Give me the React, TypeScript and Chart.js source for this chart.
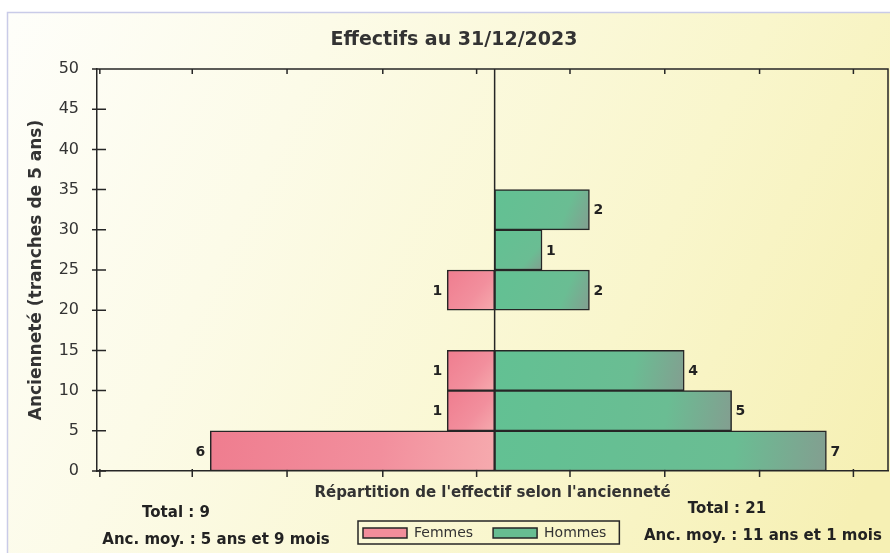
import { useEffect, useRef } from 'react';
import { Chart, registerables } from 'chart.js';

Chart.register(...registerables);

const TITLE = 'Effectifs au 31/12/2023';
const Y_TITLE = 'Ancienneté (tranches de 5 ans)';
const X_TITLE = "Répartition de l'effectif selon l'ancienneté";
const TRANCHES = ['0-5', '5-10', '10-15', '15-20', '20-25', '25-30', '30-35', '35-40', '40-45', '45-50'];
const FEMMES = [6, 1, 1, 0, 1, 0, 0, 0, 0, 0];
const HOMMES = [7, 5, 4, 0, 2, 1, 2, 0, 0, 0];
const SERIES = ['Femmes', 'Hommes'];
const Y_MIN = 0;
const Y_MAX = 50;
const Y_STEP = 5;
const X_MIN = -8.39;
const X_MAX = 8.3;
const X_TICK_MARKS = [-8.33, -6.38, -4.38, -2.36, -0.38, 1.59, 3.59, 5.59, 7.57];
const ANC_FEMMES = 'Anc. moy. : 5 ans et 9 mois';
const ANC_HOMMES = 'Anc. moy. : 11 ans et 1 mois';

const FONT = 'DejaVu Sans';
const INK = '#333333';
const EDGE = '#262626';
const PINK = '#f28d9b';
const GREEN = '#67bd91';

const total = (arr: number[]) => arr.reduce((s, v) => s + v, 0);

function barFill(kind: 'f' | 'h') {
  return (c: any) => {
    const solid = kind === 'f' ? PINK : GREEN;
    if (c.type !== 'data') return solid;
    const chart = c.chart;
    const xs = chart.scales?.x;
    const ys = chart.scales?.y;
    if (!xs || !ys || !chart.chartArea) return solid;
    const v = c.raw;
    if (v == null) return solid;
    const xb = xs.getPixelForValue(0);
    const xe = xs.getPixelForValue(v);
    const yc = ys.getPixelForValue(c.dataIndex);
    const half = (ys.height / TRANCHES.length) / 2;
    const g = chart.ctx.createLinearGradient(Math.min(xb, xe), yc - half, Math.max(xb, xe), yc + half);
    if (kind === 'f') {
      g.addColorStop(0, '#ef7d8f');
      g.addColorStop(0.6, '#f28f9d');
      g.addColorStop(1, '#f6aaae');
    } else {
      g.addColorStop(0, '#62c193');
      g.addColorStop(0.72, '#6abd93');
      g.addColorStop(1, '#839e90');
    }
    return g;
  };
}

const background = {
  id: 'background',
  beforeDraw(chart: any) {
    const { ctx, width, height } = chart;
    ctx.save();
    ctx.fillStyle = '#ffffff';
    ctx.fillRect(0, 0, width, height);
    const g = ctx.createLinearGradient(7, 12, width, height * 0.8);
    g.addColorStop(0, '#fefefa');
    g.addColorStop(0.3, '#fcfbe8');
    g.addColorStop(0.7, '#f9f6cc');
    g.addColorStop(1, '#f6f0b4');
    ctx.fillStyle = g;
    ctx.fillRect(7, 12, width - 7, height - 12);
    ctx.strokeStyle = '#c9cbe8';
    ctx.lineWidth = 1.5;
    ctx.beginPath();
    ctx.moveTo(7.5, height);
    ctx.lineTo(7.5, 12.5);
    ctx.lineTo(width, 12.5);
    ctx.stroke();
    ctx.restore();
  },
};

const frame = {
  id: 'frame',
  beforeDatasetsDraw(chart: any) {
    const { ctx, chartArea: a, scales } = chart;
    const xs = scales.x;
    const yv = scales.yv;
    ctx.save();
    ctx.strokeStyle = EDGE;
    ctx.lineWidth = 1.5;
    ctx.beginPath();
    ctx.moveTo(a.left, a.top);
    ctx.lineTo(a.right, a.top);
    ctx.lineTo(a.right, a.bottom);
    const x0 = xs.getPixelForValue(0);
    ctx.moveTo(x0, a.top);
    ctx.lineTo(x0, a.bottom);
    for (const v of X_TICK_MARKS) {
      const px = xs.getPixelForValue(v);
      ctx.moveTo(px, a.top);
      ctx.lineTo(px, a.top + 5);
      ctx.moveTo(px, a.bottom - 2);
      ctx.lineTo(px, a.bottom + 6);
    }
    for (const t of yv.ticks) {
      const py = yv.getPixelForValue(t.value);
      ctx.moveTo(a.left - 5, py);
      ctx.lineTo(a.left + 9, py);
    }
    ctx.stroke();
    ctx.restore();
  },
};

const valueLabels = {
  id: 'valueLabels',
  afterDatasetsDraw(chart: any) {
    const { ctx } = chart;
    ctx.save();
    ctx.font = `bold 14px "${FONT}"`;
    ctx.fillStyle = '#222222';
    ctx.textBaseline = 'middle';
    chart.data.datasets.forEach((ds: any, di: number) => {
      const meta = chart.getDatasetMeta(di);
      meta.data.forEach((el: any, i: number) => {
        const v = ds.data[i];
        if (v == null) return;
        const neg = v < 0;
        ctx.textAlign = neg ? 'right' : 'left';
        ctx.fillText(String(Math.abs(v)), neg ? el.x - 5 : el.x + 4, el.y + 1);
      });
    });
    ctx.restore();
  },
};

const placement = {
  id: 'placement',
  afterLayout(chart: any) {
    const tb = chart.titleBlock;
    if (tb) {
      const d = 454 - (tb.left + tb.right) / 2;
      tb.left += d;
      tb.right += d;
    }
    const lg = chart.legend;
    if (lg && lg.lineWidths) {
      const pad = lg.options.labels.padding;
      const x0 = (lg.left + pad + lg.right - lg.lineWidths[0]) / 2;
      const d = 363 - x0;
      lg.left += d;
      lg.right += d;
    }
  },
};

const footer = {
  id: 'footer',
  afterDraw(chart: any) {
    const { ctx } = chart;
    ctx.save();
    ctx.fillStyle = '#222222';
    ctx.textBaseline = 'middle';
    ctx.font = `bold 15px "${FONT}"`;
    ctx.textAlign = 'center';
    ctx.fillText(`Total : ${total(FEMMES)}`, 176, 513);
    ctx.fillText(ANC_FEMMES, 216, 540);
    ctx.fillText(`Total : ${total(HOMMES)}`, 727, 509);
    ctx.textAlign = 'left';
    ctx.fillText(ANC_HOMMES, 644, 536.5);
    const lg = chart.legend;
    if (lg && lg.lineWidths) {
      const pad = lg.options.labels.padding;
      const x0 = (lg.left + pad + lg.right - lg.lineWidths[0]) / 2;
      const x1 = x0 + lg.lineWidths[0] - pad;
      ctx.strokeStyle = EDGE;
      ctx.lineWidth = 1.5;
      ctx.strokeRect(x0 - 5, lg.top + 15, x1 - x0 + 18, 23);
    }
    ctx.restore();
  },
};

export default function App() {
  const ref = useRef<HTMLCanvasElement | null>(null);

  useEffect(() => {
    if (!ref.current) return;
    const chart = new Chart(ref.current, {
      type: 'bar',
      data: {
        labels: TRANCHES,
        datasets: [
          {
            label: SERIES[0],
            data: FEMMES.map((v) => (v ? -v : null)),
            backgroundColor: barFill('f'),
            borderColor: EDGE,
            borderWidth: 1.5,
            borderSkipped: false,
            grouped: false,
            barPercentage: 1,
            categoryPercentage: 1,
          },
          {
            label: SERIES[1],
            data: HOMMES.map((v) => (v ? v : null)),
            backgroundColor: barFill('h'),
            borderColor: EDGE,
            borderWidth: 1.5,
            borderSkipped: false,
            grouped: false,
            barPercentage: 1,
            categoryPercentage: 1,
          },
        ],
      },
      options: {
        indexAxis: 'y',
        responsive: false,
        animation: false,
        layout: { padding: { top: 0, left: 0, right: 2, bottom: 3 } },
        scales: {
          y: {
            type: 'category',
            reverse: true,
            offset: true,
            display: false,
          },
          yv: {
            type: 'linear',
            position: 'left',
            offset: false,
            min: Y_MIN,
            max: Y_MAX,
            ticks: {
              stepSize: Y_STEP,
              padding: 18,
              color: INK,
              font: { family: FONT, size: 16 },
            },
            grid: { display: false, drawTicks: false, offset: false },
            border: { display: true, color: EDGE, width: 1.5 },
            title: {
              display: true,
              text: Y_TITLE,
              color: INK,
              font: { family: FONT, size: 17, weight: 'bold' },
              padding: { top: 26.8, bottom: 0 },
            },
            afterFit: (s: any) => {
              s.width = 97;
            },
          },
          x: {
            type: 'linear',
            offset: false,
            min: X_MIN,
            max: X_MAX,
            ticks: { display: false },
            grid: { display: false, drawTicks: false },
            border: { display: true, color: EDGE, width: 1.5 },
            title: {
              display: true,
              text: X_TITLE,
              color: INK,
              font: { family: FONT, size: 15, weight: 'bold' },
              padding: { top: 0, bottom: 4 },
            },
            afterFit: (s: any) => {
              s.height = 35;
            },
          },
        },
        plugins: {
          title: {
            display: true,
            text: TITLE,
            color: INK,
            font: { family: FONT, size: 19, weight: 'bold' },
            padding: { top: 28.6, bottom: 17.6 },
          },
          legend: {
            display: true,
            position: 'bottom',
            fullSize: false,
            labels: {
              boxWidth: 44,
              boxHeight: 10,
              padding: 20,
              color: INK,
              font: { family: FONT, size: 14 },
              generateLabels: (c: any) =>
                (Chart.defaults.plugins.legend.labels.generateLabels as any)(c).map((l: any, i: number) => ({
                  ...l,
                  fillStyle: i === 0 ? PINK : GREEN,
                  strokeStyle: EDGE,
                  lineWidth: 1.5,
                })),
            },
          },
          tooltip: { enabled: false },
        },
      },
      plugins: [background, frame, valueLabels, placement, footer],
    } as any);
    return () => chart.destroy();
  }, []);

  return (
    <div style={{ position: 'fixed', left: 0, top: 0, width: 890, height: 553 }}>
      <canvas ref={ref} width={890} height={553} style={{ display: 'block' }} />
    </div>
  );
}
